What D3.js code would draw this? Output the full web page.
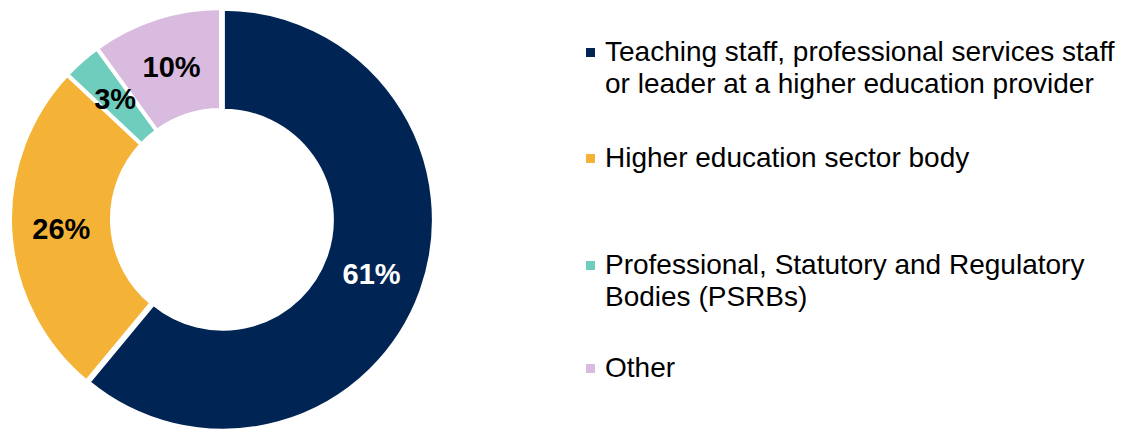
<!DOCTYPE html>
<html>
<head>
<meta charset="utf-8">
<script src="https://cdn.jsdelivr.net/npm/d3@7"></script>
<style>
  body { margin: 0; background: #fff; }
  text { font-family: Arial, "Liberation Sans", sans-serif; }
</style>
</head>
<body>
<svg id="chart"></svg>
<script>
// Dados do gráfico
var categories = [
  "Teaching staff, professional services staff|or leader at a higher education provider",
  "Higher education sector body",
  "Professional, Statutory and Regulatory|Bodies (PSRBs)",
  "Other"
];
var values = [61, 26, 3, 10];
var labels = ["61%", "26%", "3%", "10%"];
var colors = ["#002554", "#F4B336", "#6FCDBD", "#D8BBDF"];
var labelColors = ["#fff", "#000", "#000", "#000"];

var width = 1129, height = 432;
var cx = 221, cy = 219, outerR = 211, innerR = 109;

var svg = d3.select("#chart")
  .attr("width", width)
  .attr("height", height);

var pie = d3.pie().sort(null).value(function(d) { return d; });
var arcs = pie(values);

var arc = d3.arc().innerRadius(innerR).outerRadius(outerR);
var labelArc = d3.arc().innerRadius(160).outerRadius(160);

var g = svg.append("g")
  .attr("transform", "translate(" + cx + "," + cy + ")");

// Fatias (a primeira levemente destacada)
g.selectAll("path")
  .data(arcs)
  .enter()
  .append("path")
  .attr("d", arc)
  .attr("transform", function(d, i) {
    if (i != 0) return null;
    var a = (d.startAngle + d.endAngle) / 2;
    return "translate(" + (2 * Math.sin(a)) + "," + (-2 * Math.cos(a)) + ")";
  })
  .attr("fill", function(d, i) { return colors[i]; })
  .attr("stroke", "#fff")
  .attr("stroke-width", 4)
  .attr("stroke-linejoin", "miter");

// Rótulos de porcentagem
g.selectAll(".lbl")
  .data(arcs)
  .enter()
  .append("text")
  .attr("class", "lbl")
  .attr("transform", function(d) { return "translate(" + labelArc.centroid(d) + ")"; })
  .attr("dy", "0.36em")
  .attr("text-anchor", "middle")
  .style("font-size", "29px")
  .style("font-weight", "bold")
  .attr("fill", function(d, i) { return labelColors[i]; })
  .text(function(d, i) { return labels[i]; });

// Legenda
var legendY = [61, 167, 274, 377];
var lineH = 32;
var legend = svg.append("g");

categories.forEach(function(c, i) {
  legend.append("rect")
    .attr("x", 586)
    .attr("y", legendY[i] - 13)
    .attr("width", 9)
    .attr("height", 9)
    .attr("fill", colors[i]);

  var t = legend.append("text")
    .attr("x", 605)
    .attr("y", legendY[i])
    .style("font-size", "28px")
    .attr("fill", "#000");

  c.split("|").forEach(function(line, j) {
    t.append("tspan")
      .attr("x", 605)
      .attr("dy", j == 0 ? 0 : lineH)
      .text(line);
  });
});
</script>
</body>
</html>
